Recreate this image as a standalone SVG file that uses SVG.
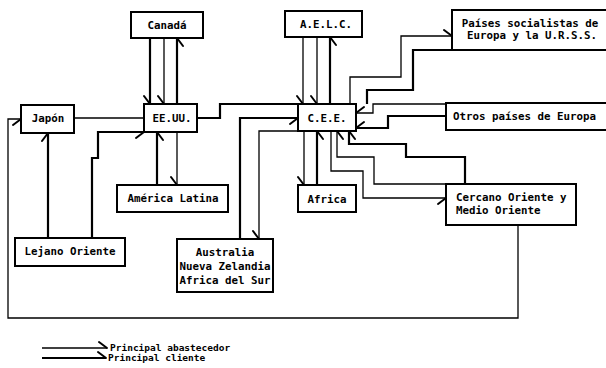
<svg xmlns="http://www.w3.org/2000/svg" width="606" height="368" viewBox="0 0 606 368">
<style>
.box{fill:#fff;stroke:#000;stroke-width:2}
.t{font-family:"DejaVu Sans Mono","Liberation Mono",monospace;font-size:10.8px;font-weight:bold;fill:#000}
.lg{font-size:9.5px}
.m{text-anchor:middle}
.thin{fill:none;stroke:#000;stroke-width:1.3}
.thick{fill:none;stroke:#000;stroke-width:2.2}
.barb{fill:none;stroke:#000;stroke-width:2;stroke-linecap:round}
</style>
<defs>
<marker id="a" viewBox="-12 -12 24 24" refX="0" refY="0" markerWidth="24" markerHeight="24" markerUnits="userSpaceOnUse" orient="auto" overflow="visible"><path class="barb" d="M0,0 L-8,6"/></marker>
<marker id="b" viewBox="-12 -12 24 24" refX="0" refY="0" markerWidth="24" markerHeight="24" markerUnits="userSpaceOnUse" orient="auto" overflow="visible"><path class="barb" d="M0,0 L-8,-6"/></marker>
</defs>
<rect width="606" height="368" fill="#fff"/>
<g id="connectors">
<path class="thick" d="M150,38 V104" marker-end="url(#a)"/>
<path class="thin" d="M164,38 V104" marker-end="url(#a)"/>
<path class="thick" d="M177,104 V38" marker-end="url(#a)"/>
<path class="thin" d="M303,37 V104" marker-end="url(#a)"/>
<path class="thin" d="M317,37 V104" marker-end="url(#a)"/>
<path class="thick" d="M330,104 V37" marker-end="url(#a)"/>
<path class="thin" d="M74,118 H144"/>
<path class="thick" d="M197,118 H220 V104 H298"/>
<path class="thick" d="M92,238 V158 H98 V132 H144" marker-end="url(#a)"/>
<path class="thick" d="M48,238 V133" marker-end="url(#b)"/>
<path class="thick" d="M157,185 V132" marker-end="url(#a)"/>
<path class="thin" d="M177,132 V185" marker-end="url(#a)"/>
<path class="thick" d="M240,239 V118 H298" marker-end="url(#a)"/>
<path class="thin" d="M298,131 H259 V239" marker-end="url(#a)"/>
<path class="thin" d="M304,131 V185" marker-end="url(#a)"/>
<path class="thick" d="M317,185 V131" marker-end="url(#a)"/>
<path class="thin" d="M331,131 V171 H363 V198 H446" marker-end="url(#a)"/>
<path class="thin" d="M446,184 H374 V157 H337 V131" marker-end="url(#a)"/>
<path class="thick" d="M465,184 V157 H406 V144 H349 V131" marker-end="url(#a)"/>
<path class="thin" d="M350,104 V77 H401 V36 H452" marker-end="url(#b)"/>
<path class="thick" d="M452,50 H413 V90 H367 V104"/>
<path class="thin" d="M446,104 H373 V113 H356" marker-end="url(#a)"/>
<path class="thick" d="M446,116 H388 V128 H356" marker-end="url(#a)"/>
<path class="thin" d="M518,225 V318 H8 V119 H21" marker-end="url(#a)"/>
<path class="thin" d="M42,348 H107" marker-end="url(#b)"/>
<path class="thick" d="M42,358 H106" marker-end="url(#b)"/>
</g>
<g id="canada"><rect class="box" x="131" y="12" width="72" height="26"/><text class="t m" x="167" y="29">Canadá</text></g>
<g id="japon"><rect class="box" x="21" y="105" width="53" height="28"/><text class="t m" x="48" y="122">Japón</text></g>
<g id="eeuu"><rect class="box" x="144" y="104" width="53" height="28"/><text class="t m" x="172" y="122">EE.UU.</text></g>
<g id="aelc"><rect class="box" x="285" y="11" width="77" height="26"/><text class="t m" x="326" y="28">A.E.L.C.</text></g>
<g id="cee"><rect class="box" x="298" y="104" width="58" height="27"/><text class="t m" x="327" y="122">C.E.E.</text></g>
<g id="paises-socialistas"><rect class="box" x="452" y="10" width="160" height="40"/><text class="t m" x="530" y="27">Países socialistas de</text><text class="t m" x="532" y="39">Europa y la U.R.S.S.</text></g>
<g id="otros-europa"><rect class="box" x="446" y="103" width="166" height="27"/><text class="t" x="453" y="120">Otros países de Europa</text></g>
<g id="cercano-oriente"><rect class="box" x="446" y="184" width="130" height="41"/><text class="t" x="456" y="201">Cercano Oriente y</text><text class="t" x="456" y="214">Medio Oriente</text></g>
<g id="america-latina"><rect class="box" x="117" y="185" width="111" height="27"/><text class="t m" x="173" y="202">América Latina</text></g>
<g id="lejano-oriente"><rect class="box" x="15" y="238" width="110" height="28"/><text class="t m" x="70" y="255">Lejano Oriente</text></g>
<g id="africa"><rect class="box" x="298" y="185" width="58" height="27"/><text class="t m" x="327" y="203">Africa</text></g>
<g id="australia"><rect class="box" x="177" y="239" width="96" height="53"/><text class="t m" x="225" y="256">Australia</text><text class="t m" x="225" y="270">Nueva Zelandia</text><text class="t m" x="225" y="284">Africa del Sur</text></g>
<g id="legend"><text class="t lg" x="110" y="351">Principal abastecedor</text><text class="t lg" x="108" y="361">Principal cliente</text></g>
</svg>
